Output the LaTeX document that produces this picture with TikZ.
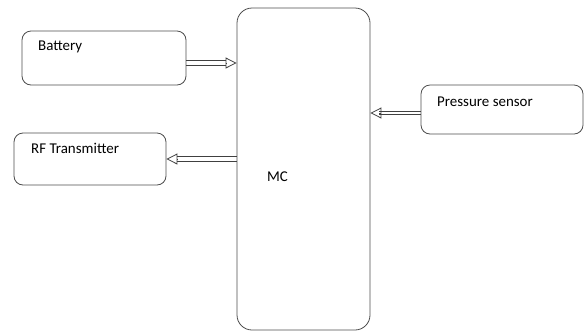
\documentclass[tikz,border=0pt]{standalone}
\usepackage{fontspec}
\setmainfont{Carlito}
\usetikzlibrary{arrows.meta}
\tikzset{
  blk/.style={draw=black!70, line width=0.8bp, rounded corners=9bp, inner sep=0pt},
  lbl/.style={anchor=base west, inner sep=0pt, font=\fontsize{15}{17}\selectfont},
  shaft/.style={draw=black!75, line width=0.8bp},
  headtip/.style={draw=black!75, line width=0.8bp, -{Triangle[open, length=11bp, width=11bp]}}
}
\begin{document}
\begin{tikzpicture}[x=1bp, y=-1bp]
    \useasboundingbox (0,0) rectangle (584,332);
    \node[blk, minimum width=133bp, minimum height=322bp, rounded corners=15bp] (mc) at (303.5,169) {};
    \node[blk, minimum width=164bp, minimum height=54bp] (bat) at (104,58) {};
    \node[blk, minimum width=152bp, minimum height=52bp] (rf) at (90,159) {};
    \node[blk, minimum width=162bp, minimum height=49bp] (ps) at (502,109.5) {};
    \node[lbl] (batlbl) at (38,50) {Battery};
    \node[lbl] (rflbl) at (31,153) {RF Transmitter};
    \node[lbl] (pslbl) at (437,106) {Pressure sensor};
    \node[lbl] (mclbl) at (267,181) {MC};
    % arrow ends
    \coordinate (batout) at ([yshift=-5bp]bat.east);
    \coordinate (mcin) at (batout -| mc.west);
    \coordinate (mcout) at (mc.west |- rf.east);
    \coordinate (psout) at ([yshift=-3.5bp]ps.west);
    \coordinate (mcin2) at (psout -| mc.east);
    % battery -> MC
    \draw[shaft] ([yshift=2.2bp]batout) -- ([shift={(-11bp,2.2bp)}]mcin)
                 ([yshift=-2.2bp]batout) -- ([shift={(-11bp,-2.2bp)}]mcin);
    \draw[headtip] ([xshift=-11bp]mcin) -- (mcin);
    % MC -> RF transmitter
    \draw[shaft] ([yshift=2.2bp]mcout) -- ([shift={(11bp,2.2bp)}]rf.east)
                 ([yshift=-2.2bp]mcout) -- ([shift={(11bp,-2.2bp)}]rf.east);
    \draw[headtip] ([xshift=11bp]rf.east) -- (rf.east);
    % pressure sensor -> MC
    \draw[shaft] ([yshift=1.6bp]psout) -- ([shift={(9bp,1.6bp)}]mcin2)
                 ([yshift=-1.6bp]psout) -- ([shift={(9bp,-1.6bp)}]mcin2);
    \draw[headtip] ([xshift=9bp]mcin2) -- (mcin2);
\end{tikzpicture}
\end{document}
